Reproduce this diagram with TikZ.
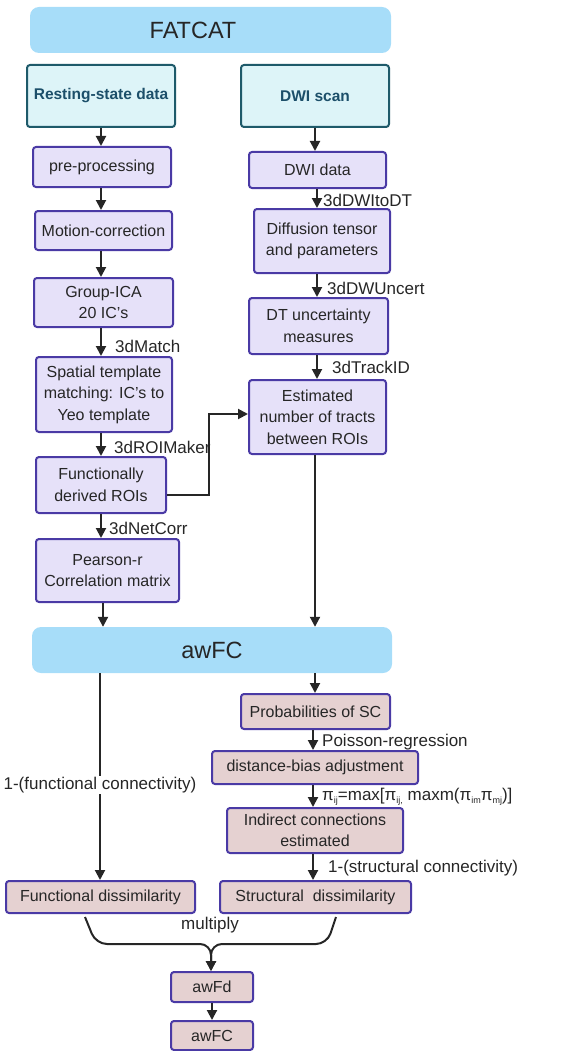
\documentclass[tikz,border=0pt]{standalone}
\usepackage{fontspec}
\setmainfont{Liberation Sans}
\usetikzlibrary{arrows.meta,calc}
\definecolor{hdrblue}{HTML}{A7DDF9}
\definecolor{srcfill}{HTML}{DDF4F8}
\definecolor{srcdraw}{HTML}{1E5A6A}
\definecolor{srctext}{HTML}{1C4F6A}
\definecolor{lavfill}{HTML}{E6E1F9}
\definecolor{boxdraw}{HTML}{4A3AA5}
\definecolor{pinkfill}{HTML}{E5D1D1}
\definecolor{txt}{HTML}{262626}
\newcommand{\sbs}[1]{\raisebox{-0.35ex}{\fontsize{9}{9}\selectfont #1}}
\tikzset{
  base/.style={align=center, text=txt, inner sep=2pt, font=\fontsize{16}{21.5}\selectfont},
  hdr/.style={base, fill=hdrblue, rounded corners=9pt, font=\fontsize{23.5}{26}\selectfont, text=black!85},
  src/.style={base, fill=srcfill, draw=srcdraw, line width=2pt, rounded corners=3pt, text=srctext, font=\fontsize{15.5}{19}\selectfont\bfseries},
  lav/.style={base, fill=lavfill, draw=boxdraw, line width=2pt, rounded corners=3pt},
  pnk/.style={base, fill=pinkfill, draw=boxdraw, line width=2pt, rounded corners=3pt},
  arr/.style={line width=2pt, black!85, -{Triangle[length=10pt,width=10pt]}},
  lbl/.style={anchor=west, inner sep=0pt, text=txt, font=\fontsize{17}{20}\selectfont},
}
\begin{document}
\begin{tikzpicture}[x=1pt,y=-1pt]
\useasboundingbox (0,0) rectangle (566,1051);
% columns
\coordinate (L) at (101,0);
\coordinate (R) at (315,0);
% header
\node[hdr, minimum width=361pt, minimum height=46pt] (fatcat) at (210.5,30) {\hspace*{-35pt}FATCAT};
\node[src, minimum width=148pt, minimum height=62pt] (rest) at (101,96) {Resting-state data};
\node[src, minimum width=148pt, minimum height=62pt] (dwi) at (315,96) {DWI scan};
% left column
\node[lav, minimum width=138pt, minimum height=40pt] (pre) at (102,167) {pre-processing};
\node[lav, minimum width=137pt, minimum height=39pt] (mot) at (103.5,230.5) {Motion-correction};
\node[lav, minimum width=139pt, minimum height=49pt] (ica) at (103.5,302.5) {Group-ICA\\20 IC's};
\node[lav, minimum width=136pt, minimum height=75pt] (spa) at (104,394.5) {Spatial template\\matching: IC's to\\Yeo template};
\node[lav, minimum width=130pt, minimum height=56pt] (fun) at (101,485) {Functionally\\derived ROIs};
\node[lav, minimum width=143pt, minimum height=63pt] (pea) at (107.5,570.5) {Pearson-r\\Correlation matrix};
% right column
\node[lav, minimum width=137pt, minimum height=36pt] (dwd) at (317.5,170) {DWI data};
\node[lav, minimum width=136pt, minimum height=64pt] (dt) at (322,241) {Diffusion tensor\\and parameters};
\node[lav, minimum width=139pt, minimum height=56pt] (dtu) at (318.5,326) {DT uncertainty\\measures};
\node[lav, minimum width=137pt, minimum height=74pt] (est) at (317.5,417) {Estimated\\number of tracts\\between ROIs};
% awFC header
\node[hdr, minimum width=360pt, minimum height=46pt] (awfc) at (212,650) {awFC};
% lower
\node[pnk, minimum width=149pt, minimum height=35pt] (prob) at (315.5,711.5) {Probabilities of SC};
\node[pnk, minimum width=206pt, minimum height=33pt] (dist) at (315,767.5) {distance-bias adjustment};
\node[pnk, minimum width=176pt, minimum height=45pt] (ind) at (315,830.5) {Indirect connections\\estimated};
\node[pnk, minimum width=189pt, minimum height=32pt] (fd) at (100.5,897) {Functional dissimilarity};
\node[pnk, minimum width=191pt, minimum height=32pt] (sd) at (315.5,897) {Structural\ \ dissimilarity};
\node[pnk, minimum width=82pt, minimum height=30pt] (awfd) at (212,987) {awFd};
\node[pnk, minimum width=82pt, minimum height=29pt] (awfc2) at (212,1035.5) {awFC};
% left arrows
\draw[arr] (rest.south -| L) -- (pre.north -| L);
\draw[arr] (pre.south -| L) -- (mot.north -| L);
\draw[arr] (mot.south -| L) -- (ica.north -| L);
\draw[arr] (ica.south -| L) -- (spa.north -| L);
\draw[arr] (spa.south -| L) -- (fun.north -| L);
\draw[arr] (fun.south -| L) -- (pea.north -| L);
\draw[arr] ([xshift=2pt]pea.south -| L) -- ([xshift=2pt]awfc.north -| L);
% right arrows
\draw[arr] (dwi.south -| R) -- (dwd.north -| R);
\draw[arr] ([xshift=2pt]dwd.south -| R) -- ([xshift=2pt]dt.north -| R);
\draw[arr] ([xshift=2pt]dt.south -| R) -- ([xshift=2pt]dtu.north -| R);
\draw[arr] ([xshift=2pt]dtu.south -| R) -- ([xshift=2pt]est.north -| R);
\draw[arr] (est.south -| R) -- (awfc.north -| R);
\draw[arr] (awfc.south -| R) -- (prob.north -| R);
\draw[arr] ([xshift=-2pt]prob.south -| R) -- ([xshift=-2pt]dist.north -| R);
\draw[arr] ([xshift=-2pt]dist.south -| R) -- ([xshift=-2pt]ind.north -| R);
\draw[arr] ([xshift=-2pt]ind.south -| R) -- ([xshift=-2pt]sd.north -| R);
% elbow
\coordinate (elb) at (209,414);
\draw[arr] ([yshift=-10pt]fun.east) -| (elb) -- (elb -| est.west);
% labels
\node[lbl] (l1) at (323,200) {3dDWItoDT};
\node[lbl] (l2) at (327,288) {3dDWUncert};
\node[lbl] (l3) at (115,346) {3dMatch};
\node[lbl] (l4) at (332,367) {3dTrackID};
\node[lbl] (l5) at (114,447) {3dROIMaker};
\node[lbl] (l6) at (109,528) {3dNetCorr};
\node[lbl] (l7) at (322,742) {Poisson-regression};
\node[lbl] (l8) at (322,797) {π\sbs{ij}=max[π\sbs{ij,} maxm(π\sbs{im}π\sbs{mj})]};
\node[lbl] (l9) at (328,868) {1-(structural connectivity)};
% functional branch
\draw[arr] ([xshift=-1pt]awfc.south -| L) -- node[fill=white, inner sep=1pt, text=txt, font=\fontsize{17}{20}\selectfont, pos=0.54] (l10) {1-(functional connectivity)} ([xshift=-1pt]fd.north -| L);
% multiply brace
\coordinate (jn) at (211,944);
\draw[arr, rounded corners=11pt] ([xshift=-15.5pt,yshift=-3pt]fd.south) -- (96,944) -- (jn) -- (awfd.north -| jn);
\draw[arr, rounded corners=11pt] ([xshift=20.5pt,yshift=-3pt]sd.south) -- (327,944) -- (jn) -- (awfd.north -| jn);
\node[text=txt, font=\fontsize{17}{20}\selectfont] (mul) at (210,925) {multiply};
\draw[arr] (awfd.south) -- (awfc2.north);
\end{tikzpicture}
\end{document}
